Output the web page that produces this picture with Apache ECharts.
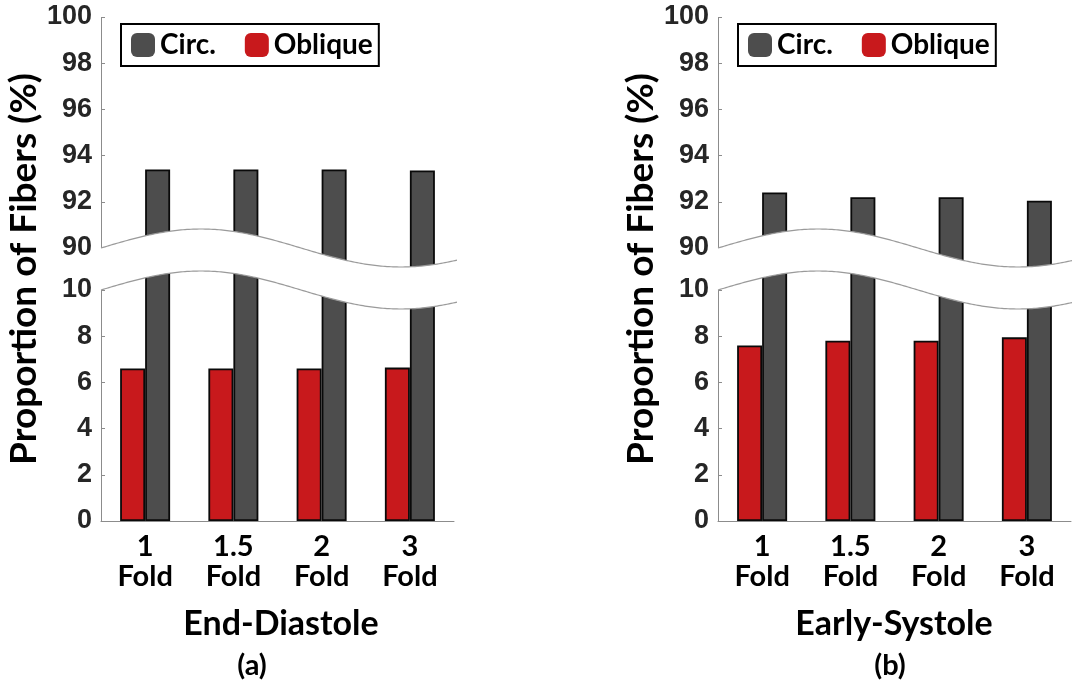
<!DOCTYPE html>
<html>
<head>
<meta charset="utf-8">
<script src="https://cdn.jsdelivr.net/npm/echarts@6/dist/echarts.min.js"></script>
<style>
  html, body { margin: 0; padding: 0; background: #ffffff; }
  #chart { width: 1073px; height: 682px; }
</style>
</head>
<body>
<div id="chart"></div>
<script>
// Fibre orientation proportions per stiffness fold, two cardiac phases
const categories = ['1\nFold', '1.5\nFold', '2\nFold', '3\nFold'];
const endDiastoleCirc = [93.4, 93.4, 93.4, 93.36];
const endDiastoleOblique = [6.6, 6.6, 6.6, 6.64];
const earlySystoleCirc = [92.4, 92.2, 92.2, 92.05];
const earlySystoleOblique = [7.6, 7.8, 7.8, 7.95];
const panelTitles = ['End-Diastole', 'Early-Systole'];
const panelTags = ['(a)', '(b)'];
const seriesNames = ['Circ.', 'Oblique'];

const COLORS = { circ: '#4d4d4d', oblique: '#c8191c' };
const TEXT_FONT = 'Lato';
const grids = [
  { left: 101, top: 17, width: 353, bottom: 161, axisEnd: 457 },
  { left: 718, top: 17, width: 353, bottom: 161, axisEnd: 1073 }
];

const chart = echarts.init(document.getElementById('chart'), null, { renderer: 'canvas' });

function xAxisFor(i) {
  return {
    type: 'category', gridIndex: i, data: categories,
    axisLine: { show: true, lineStyle: { color: '#8c8c8c', width: 1 } },
    axisTick: { show: false },
    axisLabel: {
      interval: 0, margin: 11, color: '#000', fontFamily: TEXT_FONT,
      fontWeight: 'bold', fontSize: 29, lineHeight: 30
    }
  };
}

function yAxisFor(i) {
  return {
    type: 'value', gridIndex: i, min: 0, max: 100, interval: 2,
    breaks: [{ start: 10, end: 90, gap: '8.33%' }],
    breakArea: { show: false },
    axisLine: { show: true, lineStyle: { color: '#8c8c8c', width: 1 } },
    axisTick: { show: true, inside: true, length: 4, lineStyle: { color: '#8c8c8c' } },
    splitLine: { show: false },
    axisLabel: {
      color: '#262626', fontFamily: 'Liberation Sans', fontWeight: 'bold',
      fontSize: 27, margin: 9
    },
    name: 'Proportion of Fibers (%)', nameLocation: 'middle', nameGap: 49, nameRotate: 90,
    nameTextStyle: { color: '#000', fontFamily: TEXT_FONT, fontWeight: 'bold', fontSize: 37 }
  };
}

function barSeries(name, data, color, i) {
  return {
    name, type: 'bar', xAxisIndex: i, yAxisIndex: i, data,
    barWidth: 25, barGap: '0%',
    itemStyle: { color, borderColor: '#0a0a0a', borderWidth: 1.8 },
    emphasis: { disabled: true }
  };
}

function legendFor(i) {
  return {
    left: grids[i].left + 20, top: 24,
    data: seriesNames,
    icon: 'roundRect', itemWidth: 24, itemHeight: 24, itemGap: 29,
    borderColor: '#000', borderWidth: 2, borderRadius: 0,
    padding: [7, 6, 7, 10],
    itemStyle: { borderWidth: 0 },
    textStyle: { color: '#000', fontFamily: TEXT_FONT, fontWeight: 'bold', fontSize: 28 }
  };
}

chart.setOption({
  animation: false,
  backgroundColor: '#ffffff',
  grid: grids.map(g => ({ left: g.left, top: g.top, width: g.width, bottom: g.bottom, containLabel: false })),
  xAxis: [xAxisFor(0), xAxisFor(1)],
  yAxis: [yAxisFor(0), yAxisFor(1)],
  legend: [legendFor(0), legendFor(1)],
  series: [
    barSeries('Oblique', endDiastoleOblique, COLORS.oblique, 0),
    barSeries('Circ.', endDiastoleCirc, COLORS.circ, 0),
    barSeries('Oblique', earlySystoleOblique, COLORS.oblique, 1),
    barSeries('Circ.', earlySystoleCirc, COLORS.circ, 1)
  ]
});

// Wavy white band marking the 10–90 axis break, plus panel captions
function buildOverlay() {
  const elements = [];
  const titleX = [281, 894];
  const tagX = [252, 890];
  grids.forEach((g, i) => {
    const yUpper = chart.convertToPixel({ yAxisIndex: i }, 90);
    const yLower = chart.convertToPixel({ yAxisIndex: i }, 10);
    const band = yLower - yUpper;
    const amp = 19, period = 400;
    const x0 = g.left, x1 = g.axisEnd;
    const upper = [], lower = [];
    for (let x = x0; x <= x1; x += 2) {
      const y = yUpper - amp * Math.sin(2 * Math.PI * (x - x0) / period);
      upper.push([x, y]);
      lower.push([x, y + band]);
    }
    elements.push({
      type: 'polygon', z: 50, silent: true,
      shape: { points: upper.concat(lower.slice().reverse()) },
      style: { fill: '#ffffff', stroke: null }
    });
    [upper, lower].forEach(pts => elements.push({
      type: 'polyline', z: 51, silent: true,
      shape: { points: pts },
      style: { stroke: '#9a9a9a', lineWidth: 1.2, fill: null }
    }));
    elements.push({
      type: 'text', z: 60, x: titleX[i], y: 624,
      style: {
        text: panelTitles[i], fill: '#000', align: 'center', verticalAlign: 'middle',
        font: 'bold 34px ' + TEXT_FONT
      }
    });
    elements.push({
      type: 'text', z: 60, x: tagX[i], y: 666,
      style: {
        text: panelTags[i], fill: '#000', align: 'center', verticalAlign: 'middle',
        font: 'bold 29px ' + TEXT_FONT
      }
    });
  });
  chart.setOption({ graphic: elements });
}
buildOverlay();
</script>
</body>
</html>
